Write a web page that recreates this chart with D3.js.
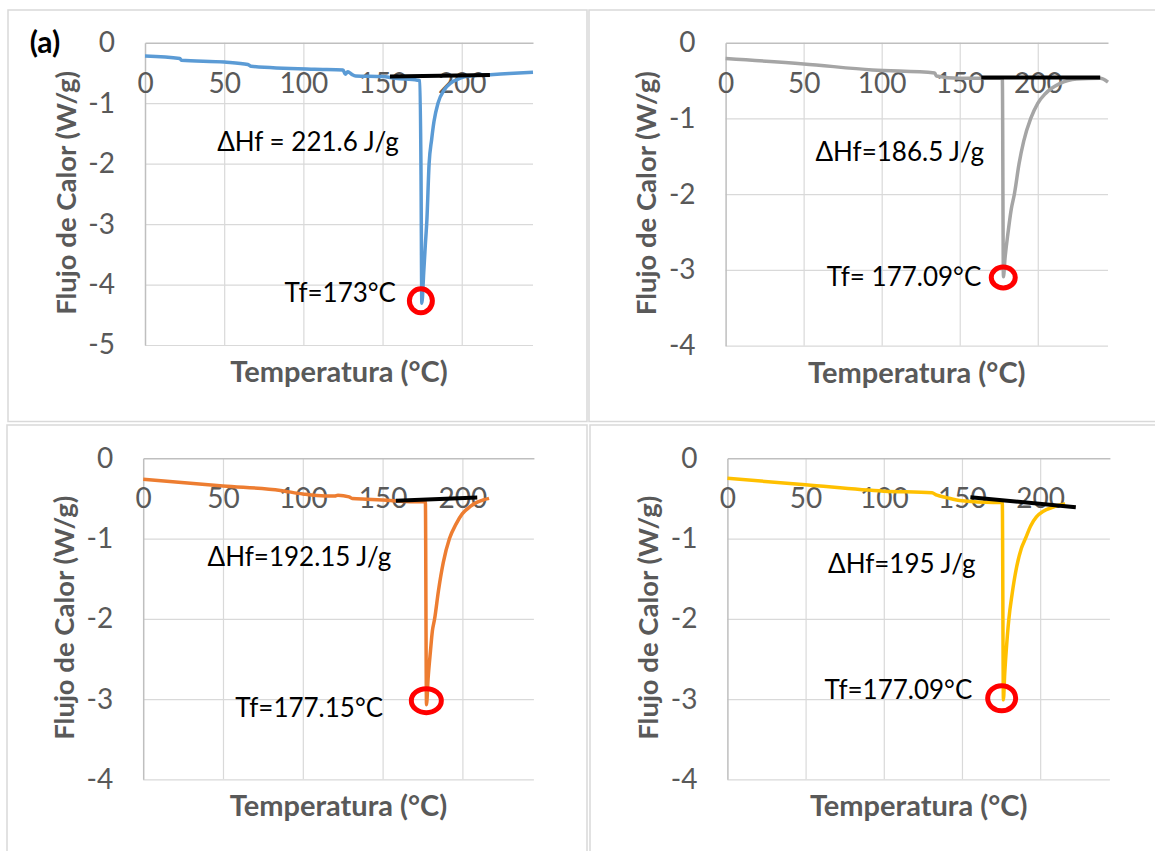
<!DOCTYPE html>
<html>
<head>
<meta charset="utf-8">
<script src="https://cdn.jsdelivr.net/npm/d3@7"></script>
<style>
    body { margin: 0; background: #fff; }
    svg { display: block; font-family: Lato, "Open Sans", sans-serif; }
</style>
</head>
<body>
<div id="chart"></div>
<script>
// ---- data ----
const tempTicks = [0, 50, 100, 150, 200];
const flowTicksA = [0, -1, -2, -3, -4, -5];
const flowTicksB = [0, -1, -2, -3, -4];

// (a) blue
const tempA = [0, 22, 23, 50, 65, 67, 107, 125, 126.5, 128, 129.5, 131, 133, 150, 158, 172, 173.6, 174.3, 174.8, 176, 177, 178, 179.4, 181, 182.5, 185, 189, 193, 197, 201, 210, 218, 230, 245];
const flowA = [-0.22, -0.26, -0.29, -0.32, -0.36, -0.39, -0.44, -0.45, -0.52, -0.48, -0.50, -0.53, -0.55, -0.56, -0.59, -0.62, -0.63, -2.2, -4.31, -3.8, -3.35, -2.93, -2.0, -1.6, -1.3, -1.0, -0.78, -0.67, -0.61, -0.57, -0.54, -0.53, -0.51, -0.49];

// gray
const tempB = [0, 50, 94, 134, 135, 150, 170, 177.3, 178, 179, 181, 183, 185, 188, 191, 195.5, 200, 205, 214, 225, 240, 245];
const flowB = [-0.21, -0.28, -0.36, -0.40, -0.44, -0.47, -0.47, -0.47, -3.09, -2.85, -2.5, -2.2, -2.0, -1.6, -1.3, -1.0, -0.8, -0.67, -0.54, -0.48, -0.47, -0.52];

// orange
const tempC = [0, 50, 86, 100, 114, 120, 122, 129, 131, 140, 150, 170, 176.8, 177.5, 178.5, 180, 181.2, 182.6, 185, 188, 191.9, 196, 200, 205, 209, 213, 216.7];
const flowC = [-0.26, -0.345, -0.40, -0.445, -0.47, -0.47, -0.46, -0.48, -0.50, -0.51, -0.52, -0.54, -0.54, -3.07, -2.75, -2.4, -2.15, -2.0, -1.65, -1.3, -1.0, -0.82, -0.69, -0.60, -0.55, -0.52, -0.50];

// yellow
const tempD = [0, 50, 100, 130.8, 134, 140, 150, 170, 175.8, 176.5, 177.3, 178.3, 180, 182, 185, 188, 190.6, 194, 197.6, 202, 208, 212.7, 216];
const flowD = [-0.25, -0.33, -0.41, -0.43, -0.46, -0.49, -0.53, -0.55, -0.55, -3.01, -2.7, -2.4, -2.0, -1.7, -1.35, -1.12, -1.0, -0.84, -0.73, -0.66, -0.61, -0.58, -0.57];

// baseline segments [tStart, qStart, tEnd, qEnd]
const baseA = [154.7, -0.56, 217.8, -0.535];
const baseB = [163.8, -0.46, 240, -0.46];
const baseC = [158.3, -0.53, 209.3, -0.49];
const baseD = [155.4, -0.486, 222.8, -0.61];

// melting peak markers [t, q]
const peakA = [174.2, -4.27];
const peakB = [177.9, -3.10];
const peakC = [177.4, -3.02];
const peakD = [175.4, -2.99];

const enthalpyLabels = ["\u0394Hf = 221.6 J/g", "\u0394Hf=186.5 J/g", "\u0394Hf=192.15 J/g", "\u0394Hf=195 J/g"];
const meltLabels = ["Tf=173\u00B0C", "Tf= 177.09\u00B0C", "Tf=177.15\u00B0C", "Tf=177.09\u00B0C"];

// ---- layout of the four panels (page px) ----
const panels = [
    { frame: [8, 10, 579, 411.5], plot: [145, 42.7, 533, 345], xMax: 245, yMin: -5, yTicks: flowTicksA,
      temp: tempA, flow: flowA, color: "#5B9BD5", base: baseA, peak: peakA, ring: [11.5, 12],
      dh: enthalpyLabels[0], dhAt: [102.9, -1.635], tf: meltLabels[0], tfAt: [158.5, -4.14], tag: "(a)" },
    { frame: [589, 10, 600, 411.5], plot: [725.6, 42.7, 1108, 345.7], xMax: 245, yMin: -4, yTicks: flowTicksB,
      temp: tempB, flow: flowB, color: "#A5A5A5", base: baseB, peak: peakB, ring: [12, 10.5],
      dh: enthalpyLabels[1], dhAt: [111.6, -1.44], tf: meltLabels[1], tfAt: [163.8, -3.09] },
    { frame: [7, 425, 580, 500], plot: [143.2, 458.3, 533.9, 779.3], xMax: 244.8, yMin: -4, yTicks: flowTicksB,
      temp: tempC, flow: flowC, color: "#ED7D31", base: baseC, peak: peakC, ring: [15, 12],
      dh: enthalpyLabels[2], dhAt: [97.9, -1.23], tf: meltLabels[2], tfAt: [150.3, -3.105] },
    { frame: [590, 425, 600, 500], plot: [727.4, 458.3, 1109.9, 779.3], xMax: 244.6, yMin: -4, yTicks: flowTicksB,
      temp: tempD, flow: flowD, color: "#FFC000", base: baseD, peak: peakD, ring: [14, 12.5],
      dh: enthalpyLabels[3], dhAt: [111.5, -1.315], tf: meltLabels[3], tfAt: [156.6, -2.88] }
];

const svg = d3.select("#chart").append("svg")
    .attr("width", 1155)
    .attr("height", 851);

panels.forEach(p => drawPanel(p));

function drawPanel(p) {
    const [l, t, r, b] = p.plot;
    const w = r - l, h = b - t;

    // outer chart frame
    svg.append("rect")
        .attr("x", p.frame[0]).attr("y", p.frame[1])
        .attr("width", p.frame[2]).attr("height", p.frame[3])
        .attr("fill", "none")
        .attr("stroke", "#d9d9d9")
        .attr("stroke-width", 1.5);

    const g = svg.append("g").attr("transform", `translate(${l},${t})`);

    const x = d3.scaleLinear().domain([0, p.xMax]).range([0, w]);
    const y = d3.scaleLinear().domain([p.yMin, 0]).range([h, 0]);

    // gridlines
    g.append("g")
        .attr("class", "grid")
        .call(d3.axisLeft(y).tickValues(p.yTicks.filter(d => d !== 0)).tickSize(-w).tickFormat(""))
        .call(s => s.select(".domain").remove())
        .call(s => s.selectAll("line").attr("stroke", "#d9d9d9").attr("stroke-width", 1.2));
    g.append("g")
        .attr("class", "grid")
        .attr("transform", `translate(0,${h})`)
        .call(d3.axisBottom(x).tickValues(tempTicks.filter(d => d !== 0)).tickSize(-h).tickFormat(""))
        .call(s => s.select(".domain").remove())
        .call(s => s.selectAll("line").attr("stroke", "#d9d9d9").attr("stroke-width", 1.2));

    // y axis
    g.append("g")
        .call(d3.axisLeft(y).tickValues(p.yTicks).tickSize(0).tickPadding(30).tickFormat(d => String(d)))
        .call(s => s.select(".domain").attr("stroke", "#bfbfbf").attr("stroke-width", 1.5))
        .call(s => s.selectAll("text")
            .attr("fill", "#595959")
            .style("font-size", "28px")
            .style("font-family", "Lato, sans-serif"));

    // x axis sits on the zero line
    g.append("g")
        .attr("transform", `translate(0,${y(0)})`)
        .call(d3.axisBottom(x).tickValues(tempTicks).tickSize(0).tickPadding(30).tickFormat(d => String(d)))
        .call(s => s.select(".domain").attr("stroke", "#bfbfbf").attr("stroke-width", 1.5))
        .call(s => s.selectAll("text")
            .attr("fill", "#595959")
            .style("font-size", "28px")
            .style("font-family", "Lato, sans-serif"));

    // axis titles
    g.append("text")
        .attr("x", w / 2)
        .attr("y", h + 27)
        .attr("dy", "0.35em")
        .attr("text-anchor", "middle")
        .attr("fill", "#595959")
        .style("font-size", "29px")
        .style("font-weight", "bold")
        .text("Temperatura (\u00B0C)");

    g.append("text")
        .attr("transform", `translate(-79,${h / 2 - 1}) rotate(-90)`)
        .attr("dy", "0.35em")
        .attr("text-anchor", "middle")
        .attr("fill", "#595959")
        .style("font-size", "27.5px")
        .style("font-weight", "bold")
        .text("Flujo de Calor (W/g)");

    // DSC curve
    const pts = p.temp.map((tv, i) => [tv, p.flow[i]]);
    const line = d3.line()
        .x(d => x(d[0]))
        .y(d => y(d[1]))
        .curve(d3.curveMonotoneX);

    g.append("path")
        .datum(pts)
        .attr("d", line)
        .attr("fill", "none")
        .attr("stroke", p.color)
        .attr("stroke-width", 3.5)
        .attr("stroke-linejoin", "round");

    // baseline used for the integration
    g.append("line")
        .attr("x1", x(p.base[0])).attr("y1", y(p.base[1]))
        .attr("x2", x(p.base[2])).attr("y2", y(p.base[3]))
        .attr("stroke", "#000")
        .attr("stroke-width", 4);

    // peak marker
    g.append("ellipse")
        .attr("cx", x(p.peak[0]))
        .attr("cy", y(p.peak[1]))
        .attr("rx", p.ring[0])
        .attr("ry", p.ring[1])
        .attr("fill", "none")
        .attr("stroke", "#ff0000")
        .attr("stroke-width", 5);

    // annotations
    g.append("text")
        .attr("x", x(p.dhAt[0]))
        .attr("y", y(p.dhAt[1]))
        .attr("dy", "0.35em")
        .attr("text-anchor", "middle")
        .attr("fill", "#000")
        .style("font-size", "26px")
        .text(p.dh);

    g.append("text")
        .attr("x", x(p.tfAt[0]))
        .attr("y", y(p.tfAt[1]))
        .attr("dy", "0.35em")
        .attr("text-anchor", "end")
        .attr("fill", "#000")
        .style("font-size", "26px")
        .text(p.tf);

    if (p.tag) {
        svg.append("text")
            .attr("x", 45)
            .attr("y", 42)
            .attr("dy", "0.35em")
            .attr("text-anchor", "middle")
            .attr("fill", "#000")
            .style("font-size", "30px")
            .style("font-weight", "bold")
            .text(p.tag);
    }
}
</script>
</body>
</html>
